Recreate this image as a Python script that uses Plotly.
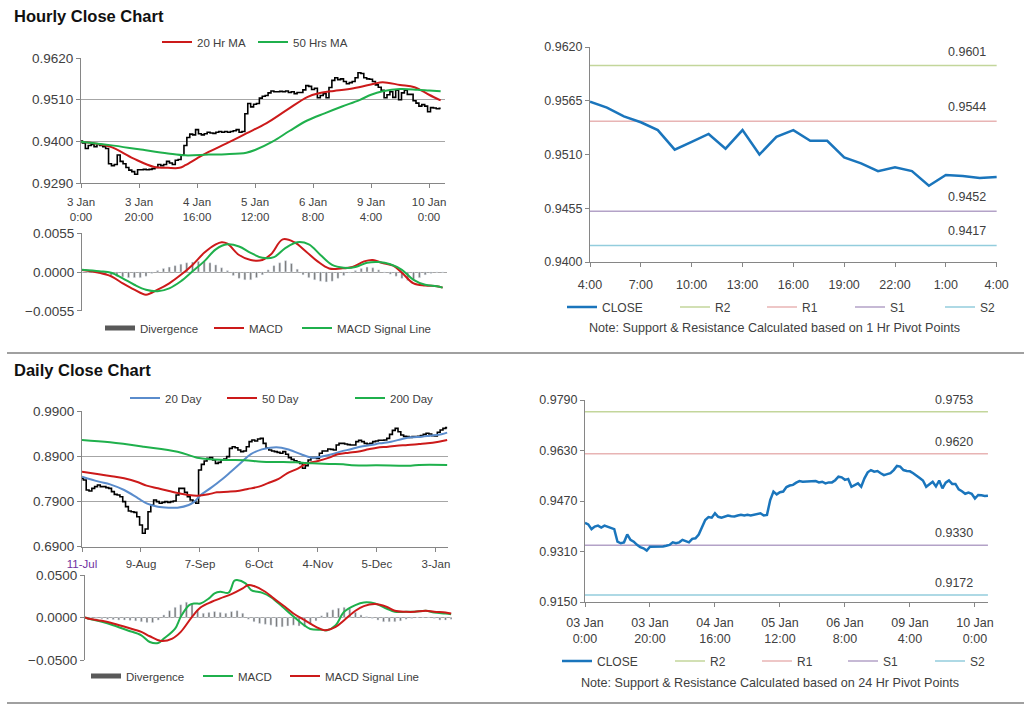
import plotly.graph_objects as go

W, H = 1024, 706
FONT = "Liberation Sans, Arial, sans-serif"
TXT = "#404040"
AX = "#868686"
GRID = "#a6a6a6"

# ---------------- DATA ----------------
hourly_tick_idx = [0, 20, 40, 60, 80, 100, 120]
hourly_tick_labels = ["3 Jan<br>0:00", "3 Jan<br>20:00", "4 Jan<br>16:00", "5 Jan<br>12:00",
                      "6 Jan<br>8:00", "9 Jan<br>4:00", "10 Jan<br>0:00"]
hourly_tick_labels_b = ["03 Jan<br>0:00", "03 Jan<br>20:00", "04 Jan<br>16:00", "05 Jan<br>12:00",
                        "06 Jan<br>8:00", "09 Jan<br>4:00", "10 Jan<br>0:00"]

hourly_close = [
    0.9401, 0.9396, 0.9381, 0.9389, 0.9392, 0.9386, 0.9392, 0.9389, 0.9386, 0.9381,
    0.9341, 0.9336, 0.9339, 0.9364, 0.9347, 0.9341, 0.9331, 0.9324, 0.9320, 0.9313,
    0.9325, 0.9325, 0.9326, 0.9325, 0.9326, 0.9328, 0.9331, 0.9339, 0.9336, 0.9339,
    0.9347, 0.9343, 0.9339, 0.9350, 0.9352, 0.9364, 0.9389, 0.9410, 0.9419, 0.9417,
    0.9431, 0.9420, 0.9417, 0.9420, 0.9424, 0.9422, 0.9421, 0.9424, 0.9426, 0.9424,
    0.9426, 0.9424, 0.9426, 0.9428, 0.9431, 0.9424, 0.9426, 0.9473, 0.9500, 0.9491,
    0.9498, 0.9500, 0.9514, 0.9519, 0.9521, 0.9528, 0.9533, 0.9531, 0.9531, 0.9532,
    0.9531, 0.9533, 0.9529, 0.9531, 0.9526, 0.9529, 0.9529, 0.9536, 0.9547, 0.9545,
    0.9537, 0.9540, 0.9515, 0.9521, 0.9526, 0.9515, 0.9542, 0.9561, 0.9568, 0.9563,
    0.9565, 0.9558, 0.9552, 0.9555, 0.9558, 0.9568, 0.9581, 0.9579, 0.9568, 0.9565,
    0.9564, 0.9558, 0.9549, 0.9543, 0.9535, 0.9515, 0.9523, 0.9531, 0.9516, 0.9535,
    0.9510, 0.9528, 0.9535, 0.9524, 0.9524, 0.9507, 0.9501, 0.9493, 0.9497, 0.9493,
    0.9478, 0.9489, 0.9488, 0.9486, 0.9487]

ma20h_idx = [0, 10, 18, 25, 30, 34, 36, 40, 44, 50, 57, 64, 71, 78, 82, 86, 94, 101, 104, 110, 115, 120, 124]
ma20h_val = [0.9399, 0.9386, 0.9355, 0.9333, 0.9330, 0.9330, 0.9337, 0.9355, 0.9372, 0.9394, 0.9421,
             0.9448, 0.9483, 0.9517, 0.9527, 0.9532, 0.9540, 0.9552, 0.9556, 0.9549, 0.9543, 0.9523, 0.9508]
ma50h_idx = [0, 10, 20, 30, 36, 44, 50, 57, 60, 66, 72, 78, 84, 90, 96, 100, 104, 110, 116, 120, 124]
ma50h_val = [0.9399, 0.9390, 0.9379, 0.9368, 0.9363, 0.9365, 0.9366, 0.9370, 0.9377, 0.9399, 0.9428,
             0.9455, 0.9474, 0.9492, 0.9509, 0.9523, 0.9532, 0.9538, 0.9536, 0.9534, 0.9532]

macdh_idx = [0, 6, 10, 14, 18, 22, 26, 30, 34, 38, 42, 46, 48, 50, 54, 58, 62, 65, 69, 73, 77, 81, 85,
             89, 93, 97, 100, 103, 107, 110, 114, 118, 122, 124]
macdh_val = [0.0003, -0.0001, -0.0006, -0.0016, -0.0025, -0.0032, -0.0025, -0.0016, -0.0004, 0.0010,
             0.0027, 0.0039, 0.0042, 0.0040, 0.0024, 0.0017, 0.0017, 0.0025, 0.0046, 0.0042, 0.0029,
             0.0015, 0.0005, 0.0005, 0.0007, 0.0015, 0.0017, 0.0013, 0.0009, -0.0001, -0.0016,
             -0.0019, -0.0020, -0.0022]
sigh_idx = [0, 6, 10, 14, 18, 22, 26, 30, 34, 38, 42, 46, 50, 54, 58, 62, 66, 70, 74, 78, 82, 86, 90,
            94, 98, 102, 106, 110, 114, 118, 122, 124]
sigh_val = [0.0003, 0.0001, -0.0001, -0.0009, -0.0018, -0.0025, -0.0027, -0.0023, -0.0013, 0.0001,
            0.0015, 0.0032, 0.0039, 0.0036, 0.0027, 0.0020, 0.0021, 0.0034, 0.0042, 0.0039, 0.0024,
            0.0010, 0.0006, 0.0007, 0.0013, 0.0014, 0.0011, 0.0003, -0.0011, -0.0018, -0.0020, -0.0022]
divh_idx = list(range(0, 125, 2))
divh_val = [0, 0, -0.0001, -0.0002, -0.0003, -0.0005, -0.0006, -0.0007, -0.0008, -0.0008,
            -0.0008, -0.0006, -0.0002, 0.0002, 0.0005, 0.0007, 0.0009, 0.0011, 0.0013, 0.0014,
            0.0015, 0.0015, 0.0013, 0.0010, 0.0006, 0.0002, -0.0005, -0.0009, -0.0011, -0.0011,
            -0.0008, -0.0004, 0.0003, 0.0009, 0.0013, 0.0016, 0.0012, 0.0004, -0.0004, -0.0008,
            -0.0011, -0.0013, -0.0014, -0.0013, -0.0009, -0.0005, -0.0001, 0.0002, 0.0005, 0.0007,
            0.0006, 0.0003, 0, -0.0003, -0.0006, -0.0009, -0.0012, -0.0011, -0.0008, -0.0004,
            -0.0002, 0, 0]

pivot_hours = ["4:00", "5:00", "6:00", "7:00", "8:00", "9:00", "10:00", "11:00", "12:00", "13:00",
               "14:00", "15:00", "16:00", "17:00", "18:00", "19:00", "20:00", "21:00", "22:00",
               "23:00", "0:00", "1:00", "2:00", "3:00", "4:00"]
pivot_close = hourly_close[100:]
pivot_names = ["R2", "R1", "S1", "S2"]
pivot_colors = ["#c3d69b", "#e8b4b4", "#b3a2c7", "#93cddd"]
hourly_pivots = [0.9601, 0.9544, 0.9452, 0.9417]
daily_pivots = [0.9753, 0.9620, 0.9330, 0.9172]

daily_tick_idx = [0, 21, 42, 63, 84, 105, 126]
daily_tick_labels = ["<span style='color:#7030a0'>11-Jul</span>", "9-Aug", "7-Sep", "6-Oct",
                     "4-Nov", "5-Dec", "3-Jan"]
daily_close = [
    0.8409, 0.8372, 0.8151, 0.8129, 0.8188, 0.8225, 0.8262, 0.8225, 0.8225, 0.8203,
    0.8188, 0.8114, 0.8055, 0.8040, 0.8003, 0.7893, 0.7782, 0.7686, 0.7671, 0.7656,
    0.7560, 0.7376, 0.7192, 0.7288, 0.7671, 0.7819, 0.7930, 0.7893, 0.7856, 0.7878,
    0.7893, 0.7878, 0.7893, 0.7908, 0.8040, 0.8188, 0.8188, 0.8099, 0.8003, 0.7930,
    0.7893, 0.7856, 0.8594, 0.8719, 0.8793, 0.8852, 0.8867, 0.8815, 0.8741, 0.8763,
    0.8815, 0.8837, 0.8889, 0.9073, 0.9110, 0.9088, 0.9037, 0.9000, 0.9014, 0.9110,
    0.9221, 0.9258, 0.9236, 0.9280, 0.9295, 0.9184, 0.9088, 0.9037, 0.9014, 0.9000,
    0.8985, 0.8963, 0.9000, 0.8941, 0.8867, 0.8830, 0.8800, 0.8778, 0.8741, 0.8631,
    0.8690, 0.8815, 0.8867, 0.8867, 0.8852, 0.8963, 0.9014, 0.9014, 0.9059, 0.9051,
    0.9037, 0.9147, 0.9184, 0.9184, 0.9169, 0.9155, 0.9147, 0.9147, 0.9221, 0.9251,
    0.9221, 0.9184, 0.9169, 0.9184, 0.9221, 0.9236, 0.9251, 0.9251, 0.9258, 0.9295,
    0.9383, 0.9472, 0.9516, 0.9442, 0.9369, 0.9339, 0.9332, 0.9317, 0.9332, 0.9332,
    0.9339, 0.9354, 0.9383, 0.9406, 0.9391, 0.9354, 0.9347, 0.9428, 0.9479, 0.9516,
    0.9531]

ma20d_idx = [0, 6, 10, 15, 20, 23, 27, 31, 34, 38, 40, 42, 46, 50, 53, 57, 60, 64, 67, 71, 74, 78, 82,
             85, 89, 92, 96, 99, 103, 106, 110, 114, 117, 121, 124, 128, 130]
ma20d_val = [0.8446, 0.8336, 0.8276, 0.8151, 0.7966, 0.7856, 0.7782, 0.7760, 0.7760, 0.7819, 0.7893,
             0.8026, 0.8203, 0.8395, 0.8557, 0.8778, 0.8941, 0.9051, 0.9088, 0.9088, 0.9037, 0.8941,
             0.8867, 0.8889, 0.8941, 0.9000, 0.9059, 0.9110, 0.9147, 0.9184, 0.9221, 0.9280, 0.9317,
             0.9332, 0.9354, 0.9383, 0.9420]
ma50d_idx = [0, 6, 10, 15, 20, 23, 27, 31, 34, 38, 41, 45, 48, 52, 56, 59, 63, 66, 70, 73, 77, 80, 84,
             88, 91, 95, 98, 102, 105, 109, 112, 116, 120, 123, 127, 130]
ma50d_val = [0.8557, 0.8498, 0.8461, 0.8409, 0.8321, 0.8247, 0.8188, 0.8129, 0.8085, 0.8040, 0.8026,
             0.8055, 0.8099, 0.8114, 0.8136, 0.8173, 0.8225, 0.8298, 0.8395, 0.8520, 0.8631, 0.8741,
             0.8793, 0.8867, 0.8941, 0.8978, 0.9000, 0.9051, 0.9088, 0.9110, 0.9133, 0.9147, 0.9169,
             0.9184, 0.9221, 0.9258]
ma200d_idx = [0, 10, 22, 34, 41, 46, 52, 58, 64, 70, 76, 82, 88, 93, 96, 105, 117, 120, 130]
ma200d_val = [0.9258, 0.9206, 0.9110, 0.9000, 0.8867, 0.8830, 0.8815, 0.8808, 0.8778, 0.8771, 0.8763,
              0.8741, 0.8726, 0.8719, 0.8697, 0.8697, 0.8690, 0.8705, 0.8705]

macdd_idx = [0, 1, 6, 10, 15, 20, 23, 26, 28, 32, 34, 37, 39, 41, 44, 46, 48, 51, 53, 54, 57, 59, 63,
             66, 70, 73, 77, 80, 84, 86, 89, 92, 96, 99, 103, 107, 110, 114, 117, 121, 124, 128, 130]
macdd_val = [0, -0.0012, -0.0051, -0.0091, -0.0150, -0.0209, -0.0288, -0.0300, -0.0248, -0.0130,
             0.0008, 0.0146, 0.0165, 0.0165, 0.0225, 0.0284, 0.0303, 0.0292, 0.0433, 0.0441, 0.0402,
             0.0323, 0.0290, 0.0240, 0.0130, 0.0040, -0.0070, -0.0135, -0.0145, -0.0150, -0.0091,
             0.0067, 0.0146, 0.0177, 0.0165, 0.0106, 0.0067, 0.0067, 0.0067, 0.0079, 0.0059, 0.0047,
             0.0039]
sigd_idx = [0, 1, 6, 10, 15, 20, 23, 27, 31, 34, 38, 41, 45, 48, 52, 56, 58, 60, 64, 67, 71, 74, 78,
            82, 85, 89, 92, 96, 99, 103, 107, 110, 114, 117, 121, 124, 128, 130]
sigd_val = [0, -0.0012, -0.0039, -0.0071, -0.0118, -0.0169, -0.0221, -0.0276, -0.0248, -0.0169,
            0.0008, 0.0118, 0.0185, 0.0225, 0.0276, 0.0343, 0.0382, 0.0370, 0.0303, 0.0225, 0.0126,
            0.0047, -0.0032, -0.0110, -0.0150, -0.0110, -0.0032, 0.0079, 0.0134, 0.0158, 0.0126,
            0.0079, 0.0067, 0.0067, 0.0079, 0.0067, 0.0059, 0.0047]
divd_idx = list(range(0, 131, 2))
divd_val = [0, -0.0005, -0.001, -0.0015, -0.002, -0.0025, -0.003, -0.003, -0.0035, -0.004,
            -0.005, -0.006, -0.006, -0.003, 0.003, 0.008, 0.012, 0.015, 0.018, 0.016,
            0.008, 0.005, 0.006, 0.007, 0.006, 0.005, 0.007, 0.008, 0.005, -0.002,
            -0.005, -0.007, -0.008, -0.009, -0.011, -0.011, -0.010, -0.009, -0.010, -0.011,
            -0.008, -0.004, 0.002, 0.006, 0.009, 0.011, 0.012, 0.010, 0.006, 0.003,
            0.001, -0.001, -0.003, -0.005, -0.005, -0.005, -0.004, -0.002, -0.001, 0,
            0.0005, 0.0005, -0.001, -0.003, -0.003, -0.002]

RED = "#cc1a1a"
GREEN = "#1fb04c"
BLUE_MA = "#5a8ccc"
BLUE_CLOSE = "#1a75bc"
BAR = "#7a7a7a"

# ---------------- FIGURE ----------------
fig = go.Figure()
hx = list(range(len(hourly_close)))
dx = list(range(len(daily_close)))
px_ = list(range(len(pivot_close)))

# hourly price
fig.add_trace(go.Scatter(x=hx, y=hourly_close, mode="lines", line=dict(color="black", width=1.6, shape="hvh"),
                         showlegend=False, xaxis="x", yaxis="y", hoverinfo="skip"))
fig.add_trace(go.Scatter(x=ma20h_idx, y=ma20h_val, mode="lines", name="20 Hr MA", line=dict(color=RED, width=2),
                         line_shape="spline", xaxis="x", yaxis="y", legend="legend", legendwidth=51))
fig.add_trace(go.Scatter(x=ma50h_idx, y=ma50h_val, mode="lines", name="50 Hrs MA", line=dict(color=GREEN, width=2),
                         line_shape="spline", xaxis="x", yaxis="y", legend="legend", legendwidth=60))

# hourly MACD
fig.add_trace(go.Bar(x=divh_idx, y=divh_val, marker_color=BAR, width=0.7, showlegend=False,
                     xaxis="x2", yaxis="y2"))
fig.add_trace(go.Scatter(x=[None], y=[None], mode="lines", name="Divergence", line=dict(color="#595959", width=5),
                         xaxis="x2", yaxis="y2", legend="legend2", legendwidth=64))
fig.add_trace(go.Scatter(x=macdh_idx, y=macdh_val, mode="lines", name="MACD", line=dict(color=RED, width=2),
                         line_shape="spline", xaxis="x2", yaxis="y2", legend="legend2", legendwidth=43))
fig.add_trace(go.Scatter(x=sigh_idx, y=sigh_val, mode="lines", name="MACD Signal Line",
                         line=dict(color=GREEN, width=2), line_shape="spline",
                         xaxis="x2", yaxis="y2", legend="legend2", legendwidth=100))

# top-right pivots
tr_w = [42, 43, 45, 20]
for i, (nm, lv) in enumerate(zip(pivot_names, hourly_pivots)):
    fig.add_trace(go.Scatter(x=[px_[0], px_[-1]], y=[lv, lv], mode="lines", name=nm,
                             line=dict(color=pivot_colors[i], width=1.5), xaxis="x3", yaxis="y3",
                             legend="legend3", legendrank=2 + i, legendwidth=tr_w[i]))
fig.add_trace(go.Scatter(x=px_, y=pivot_close, mode="lines", name="CLOSE", line=dict(color=BLUE_CLOSE, width=2.5),
                         xaxis="x3", yaxis="y3", legend="legend3", legendrank=1, legendwidth=68))

# daily price
fig.add_trace(go.Scatter(x=dx, y=daily_close, mode="lines", line=dict(color="black", width=1.6, shape="hvh"),
                         showlegend=False, xaxis="x4", yaxis="y4", hoverinfo="skip"))
fig.add_trace(go.Scatter(x=ma20d_idx, y=ma20d_val, mode="lines", name="20 Day", line=dict(color=BLUE_MA, width=2),
                         line_shape="spline", xaxis="x4", yaxis="y4", legend="legend4", legendwidth=52))
fig.add_trace(go.Scatter(x=ma50d_idx, y=ma50d_val, mode="lines", name="50 Day", line=dict(color=RED, width=2),
                         line_shape="spline", xaxis="x4", yaxis="y4", legend="legend4", legendwidth=83))
fig.add_trace(go.Scatter(x=ma200d_idx, y=ma200d_val, mode="lines", name="200 Day", line=dict(color=GREEN, width=2),
                         line_shape="spline", xaxis="x4", yaxis="y4", legend="legend4", legendwidth=50))

# daily MACD
fig.add_trace(go.Bar(x=divd_idx, y=divd_val, marker_color=BAR, width=0.7, showlegend=False,
                     xaxis="x5", yaxis="y5"))
fig.add_trace(go.Scatter(x=[None], y=[None], mode="lines", name="Divergence", line=dict(color="#595959", width=5),
                         xaxis="x5", yaxis="y5", legend="legend5", legendwidth=67))
fig.add_trace(go.Scatter(x=macdd_idx, y=macdd_val, mode="lines", name="MACD", line=dict(color=GREEN, width=2),
                         line_shape="spline", xaxis="x5", yaxis="y5", legend="legend5", legendwidth=42))
fig.add_trace(go.Scatter(x=sigd_idx, y=sigd_val, mode="lines", name="MACD Signal Line",
                         line=dict(color=RED, width=2), line_shape="spline",
                         xaxis="x5", yaxis="y5", legend="legend5", legendwidth=100))

# bottom-right pivots
br_w = [42, 41, 42, 20]
for i, (nm, lv) in enumerate(zip(pivot_names, daily_pivots)):
    fig.add_trace(go.Scatter(x=[hx[0], hx[-1]], y=[lv, lv], mode="lines", name=nm,
                             line=dict(color=pivot_colors[i], width=1.5), xaxis="x6", yaxis="y6",
                             legend="legend6", legendrank=2 + i, legendwidth=br_w[i]))
fig.add_trace(go.Scatter(x=hx, y=hourly_close, mode="lines", name="CLOSE", line=dict(color=BLUE_CLOSE, width=2.5),
                         xaxis="x6", yaxis="y6", legend="legend6", legendrank=1, legendwidth=68))


def dxr(a, b):
    return [a / W, b / W]


def dyr(top, bottom):
    return [1 - bottom / H, 1 - top / H]


def xax(domain, rng, anchor, tickvals=None, ticktext=None, visible=True, size=11.5, standoff=0):
    d = dict(domain=domain, range=rng, anchor=anchor, showgrid=False, zeroline=False,
             fixedrange=True, automargin=False)
    if not visible:
        d.update(visible=False)
        return d
    d.update(showline=True, linecolor=AX, linewidth=1, ticks="outside", ticklen=4, tickcolor=AX,
             tickmode="array", tickvals=tickvals, ticktext=ticktext, ticklabelstandoff=standoff,
             tickfont=dict(family=FONT, size=size, color=TXT))
    return d


def yax(domain, rng, anchor, tickvals, grid, size=13.5):
    return dict(domain=domain, range=rng, anchor=anchor, showline=True, linecolor=AX, linewidth=1,
                ticks="outside", ticklen=4, tickcolor=AX, tickmode="array", tickvals=tickvals,
                tickformat=".4f", tickfont=dict(family=FONT, size=size, color=TXT), automargin=False,
                showgrid=grid, gridcolor=GRID, gridwidth=1, zeroline=False, fixedrange=True)


e = 1e-6
layout = dict(
    width=W, height=H, margin=dict(l=0, r=0, t=0, b=0, pad=0, autoexpand=False),
    paper_bgcolor="white", plot_bgcolor="white",
    showlegend=True, bargap=0,
    xaxis=xax(dxr(81, 445), [0, 125.5], "y", hourly_tick_idx, hourly_tick_labels, standoff=4),
    yaxis=yax(dyr(58, 183), [0.9290, 0.9620 + 5 * e], "x", [0.9290, 0.9400, 0.9510, 0.9620], True),
    xaxis2=xax(dxr(82, 447), [0, 125.5], "y2", visible=False),
    yaxis2=yax(dyr(233, 311), [-0.0055 - e, 0.0055 + e], "x2", [-0.0055, 0, 0.0055], True),
    xaxis3=xax(dxr(590, 997), [0, 24.02], "y3", px_[::3], pivot_hours[::3], size=12.5, standoff=7),
    yaxis3=yax(dyr(47, 262), [0.9400, 0.9620], "x3", [0.9400, 0.9455, 0.9510, 0.9565, 0.9620], False, size=12.5),
    xaxis4=xax(dxr(82, 448), [0, 130.3], "y4", daily_tick_idx, daily_tick_labels, standoff=3),
    yaxis4=yax(dyr(411, 546.5), [0.6900, 0.9900 + 5 * e], "x4", [0.69, 0.79, 0.89, 0.99], True),
    xaxis5=xax(dxr(85, 452), [0, 130.3], "y5", visible=False),
    yaxis5=yax(dyr(575, 660), [-0.05 - 5 * e, 0.05 + 5 * e], "x5", [-0.05, 0, 0.05], True),
    xaxis6=xax(dxr(585, 988), [0, 124.02], "y6", hourly_tick_idx, hourly_tick_labels_b, size=12.5, standoff=5),
    yaxis6=yax(dyr(400, 602), [0.9150, 0.9790], "x6", [0.915, 0.931, 0.947, 0.963, 0.979], False, size=12.5),
)


def leg(xpx, ypx, size):
    return dict(orientation="h", x=xpx / W, y=1 - ypx / H, xanchor="left", yanchor="middle",
                font=dict(family=FONT, size=size, color=TXT), bgcolor="rgba(0,0,0,0)", borderwidth=0,
                itemclick=False, itemdoubleclick=False, traceorder="normal")


layout["legend"] = leg(157, 42, 11.5)
layout["legend2"] = leg(100, 328, 11.5)
layout["legend3"] = leg(562, 307, 12)
layout["legend4"] = leg(125, 398, 11.5)
layout["legend5"] = leg(86, 676, 11.5)
layout["legend6"] = leg(557, 661, 12)

annotations = [
    dict(text="<b>Hourly Close Chart</b>", x=12 / W, y=1 - 16 / H, xref="paper", yref="paper",
         xanchor="left", yanchor="middle", showarrow=False, font=dict(family=FONT, size=16.5, color="#111")),
    dict(text="<b>Daily Close Chart</b>", x=12 / W, y=1 - 370 / H, xref="paper", yref="paper",
         xanchor="left", yanchor="middle", showarrow=False, font=dict(family=FONT, size=16.5, color="#111")),
    dict(text="Note: Support & Resistance Calculated based on 1 Hr Pivot Points", x=774 / W, y=1 - 328 / H,
         xref="paper", yref="paper", xanchor="center", yanchor="middle", showarrow=False,
         font=dict(family=FONT, size=12.6, color=TXT)),
    dict(text="Note: Support & Resistance Calculated based on 24 Hr Pivot Points", x=770 / W, y=1 - 683 / H,
         xref="paper", yref="paper", xanchor="center", yanchor="middle", showarrow=False,
         font=dict(family=FONT, size=12.6, color=TXT)),
]
for lv in hourly_pivots:
    annotations.append(dict(text=f"{lv:.4f}", x=px_[-1], y=lv, xref="x3", yref="y3", xanchor="right",
                            yanchor="bottom", xshift=-9, yshift=5, showarrow=False,
                            font=dict(family=FONT, size=12.5, color=TXT)))
for lv in daily_pivots:
    annotations.append(dict(text=f"{lv:.4f}", x=hx[-1], y=lv, xref="x6", yref="y6", xanchor="right",
                            yanchor="bottom", xshift=-13, yshift=3, showarrow=False,
                            font=dict(family=FONT, size=12.5, color=TXT)))
layout["annotations"] = annotations

layout["shapes"] = [
    dict(type="line", xref="paper", yref="paper", x0=7 / W, x1=1, y0=1 - 353 / H, y1=1 - 353 / H,
         line=dict(color="#a0a0a0", width=2)),
    dict(type="line", xref="paper", yref="paper", x0=7 / W, x1=1, y0=1 - 703 / H, y1=1 - 703 / H,
         line=dict(color="#a0a0a0", width=2)),
]

fig.update_layout(**layout)
fig.write_html("out.html", config={"displayModeBar": False, "staticPlot": True},
               post_script="document.body.style.margin='0px';")
